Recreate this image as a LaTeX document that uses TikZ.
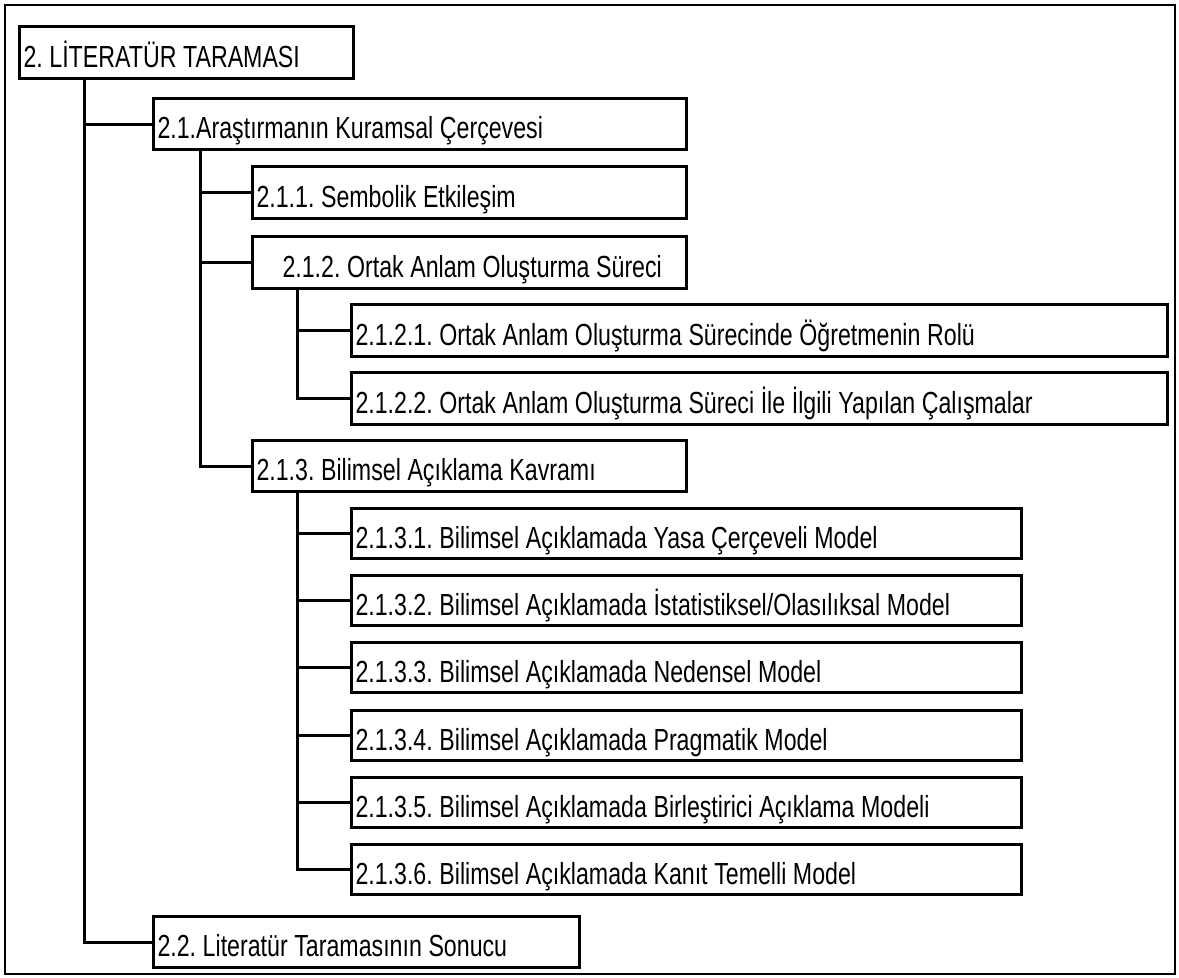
\documentclass[tikz,border=0pt]{standalone}
\usepackage{fontspec}
\setmainfont{Liberation Sans}[FakeStretch=0.76]
\frenchspacing
\tikzset{
  box/.style={draw=black, line width=3pt, anchor=north west, minimum height=52pt,
    inner xsep=4pt, inner ysep=0pt, text height=29.6pt, text depth=0pt,
    text width=#1, align=left, font=\fontsize{30.5}{36}\selectfont\frenchspacing,
    execute at begin node={\spaceskip=6.6pt\xspaceskip=6.6pt}},
  conn/.style={draw=black, line width=3pt},
  frame/.style={draw=black, line width=2pt}
}
\begin{document}
\begin{tikzpicture}[x=1pt,y=-1pt]
\useasboundingbox (0,0) rectangle (1179,978);
\draw[frame] (5,5) rectangle (1175,974);
\node[box=326pt] (root) at (18,25) {2. LİTERATÜR TARAMASI};
\node[box=525pt, minimum height=51pt] (n21) at (152,97) {2.1.Araştırmanın Kuramsal Çerçevesi};
\node[box=426pt] (n211) at (251,165) {2.1.1. Sembolik Etkileşim};
\node[box=426pt] (n212) at (251,235) {\mbox{\hspace*{26pt}2.1.2. Ortak Anlam Oluşturma Süreci}};
\node[box=808pt] (n2121) at (350,303) {2.1.2.1. Ortak Anlam Oluşturma Sürecinde Öğretmenin Rolü};
\node[box=808pt] (n2122) at (350,371) {2.1.2.2. Ortak Anlam Oluşturma Süreci İle İlgili Yapılan Çalışmalar};
\node[box=426pt, minimum height=51pt] (n213) at (251,439) {2.1.3. Bilimsel Açıklama Kavramı};
\node[box=662pt, minimum height=50pt] (n2131) at (350,507) {2.1.3.1. Bilimsel Açıklamada Yasa Çerçeveli Model};
\node[box=662pt, minimum height=50pt] (n2132) at (350,574) {2.1.3.2. Bilimsel Açıklamada İstatistiksel/Olasılıksal Model};
\node[box=662pt, minimum height=50pt] (n2133) at (350,641) {2.1.3.3. Bilimsel Açıklamada Nedensel Model};
\node[box=662pt, minimum height=50pt] (n2134) at (350,709) {2.1.3.4. Bilimsel Açıklamada Pragmatik Model};
\node[box=662pt, minimum height=50pt] (n2135) at (350,776) {2.1.3.5. Bilimsel Açıklamada Birleştirici Açıklama Modeli};
\node[box=662pt, minimum height=50pt] (n2136) at (350,843) {2.1.3.6. Bilimsel Açıklamada Kanıt Temelli Model};
\node[box=418pt, minimum height=51pt] (n22) at (152,915) {2.2. Literatür Taramasının Sonucu};
\coordinate (v1) at (84,0);
\coordinate (v2) at (200,0);
\coordinate (v3) at (297,0);
\draw[conn] (root.south -| v1) |- (n22.west);
\draw[conn] (v1 |- n21.west) -- (n21.west);
\draw[conn] (n21.south -| v2) |- (n213.west);
\draw[conn] (v2 |- n211.west) -- (n211.west);
\draw[conn] (v2 |- n212.west) -- (n212.west);
\draw[conn] (n212.south -| v3) |- (n2122.west);
\draw[conn] (v3 |- n2121.west) -- (n2121.west);
\draw[conn] (n213.south -| v3) |- (n2136.west);
\foreach \n in {n2131,n2132,n2133,n2134,n2135}{
  \draw[conn] (v3 |- \n.west) -- (\n.west);
}
\end{tikzpicture}
\end{document}
